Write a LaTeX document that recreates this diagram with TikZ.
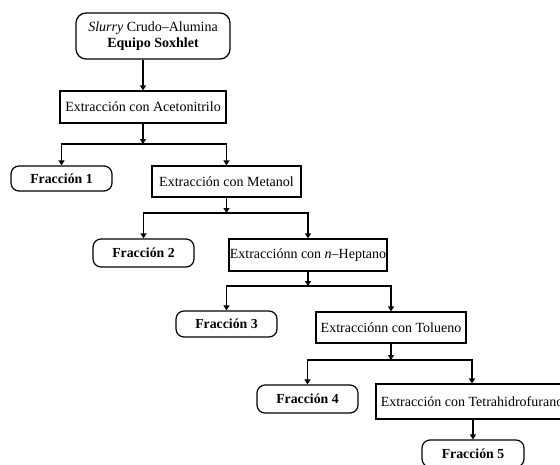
\documentclass[tikz,border=0pt]{standalone}
\usepackage{fontspec}
\setmainfont{Liberation Serif}
\usetikzlibrary{arrows.meta}
\begin{document}
\begin{tikzpicture}[x=1pt,y=-1pt,
  font=\fontsize{14}{16.5}\selectfont,
  box/.style={draw, line width=1.2pt, inner sep=0pt, align=center},
  rbox/.style={box, rounded corners=8pt, font=\fontsize{13.8}{16.5}\selectfont\bfseries},
  arr/.style={line width=1.2pt, -{Triangle[length=5pt,width=6pt]}}]
\useasboundingbox (0,0) rectangle (560,464);
\clip (0,0) rectangle (560,464);

\node[box, rounded corners=10pt, minimum width=154pt, minimum height=46pt] (top) at (153,36)
  {{\itshape Slurry} Crudo--Alumina\\{\bfseries Equipo Soxhlet}};
\node[box, minimum width=166pt, minimum height=32pt] (acet) at (143,107) {Extracción con Acetonitrilo};
\node[rbox, minimum width=101pt, minimum height=25pt] (f1) at (61.5,178.5) {Fracción 1};
\node[box, minimum width=149pt, minimum height=31pt] (met) at (226.5,181.5) {Extracción con Metanol};
\node[rbox, minimum width=101pt, minimum height=28pt] (f2) at (143.5,253) {Fracción 2};
\node[box, minimum width=158pt, minimum height=32pt] (hept) at (308,255) {Extracciónn con {\itshape n}--Heptano};
\node[rbox, minimum width=101pt, minimum height=26pt] (f3) at (226.5,324) {Fracción 3};
\node[box, minimum width=150pt, minimum height=31pt] (tol) at (391,327.5) {Extracciónn con Tolueno};
\node[rbox, minimum width=101pt, minimum height=28pt] (f4) at (307.5,399) {Fracción 4};
\node[box, minimum width=192pt, minimum height=35pt] (thf) at (472,401.5) {Extracción con Tetrahidrofurano};
\node[rbox, minimum width=102pt, minimum height=27pt] (f5) at (473,453.5) {Fracción 5};

\coordinate (j1) at (143,144);
\coordinate (j2) at (226.5,213);
\coordinate (j3) at (308,286);
\coordinate (j4) at (391,360);

\draw[arr] (top.south -| acet.north) -- (acet.north);
\draw[arr] (acet.south) -- (j1);
\draw[arr] (j1) -| (f1.north);
\draw[arr] (j1) -| (met.north);
\draw[arr] (met.south) -- (j2);
\draw[arr] (j2) -| (f2.north);
\draw[arr] (j2) -| (hept.north);
\draw[arr] (hept.south) -- (j3);
\draw[arr] (j3) -| (f3.north);
\draw[arr] (j3) -| (tol.north);
\draw[arr] (tol.south) -- (j4);
\draw[arr] (j4) -| (f4.north);
\draw[arr] (j4) -| (thf.north);
\draw[arr] (thf.south -| f5.north) -- (f5.north);
\end{tikzpicture}
\end{document}
